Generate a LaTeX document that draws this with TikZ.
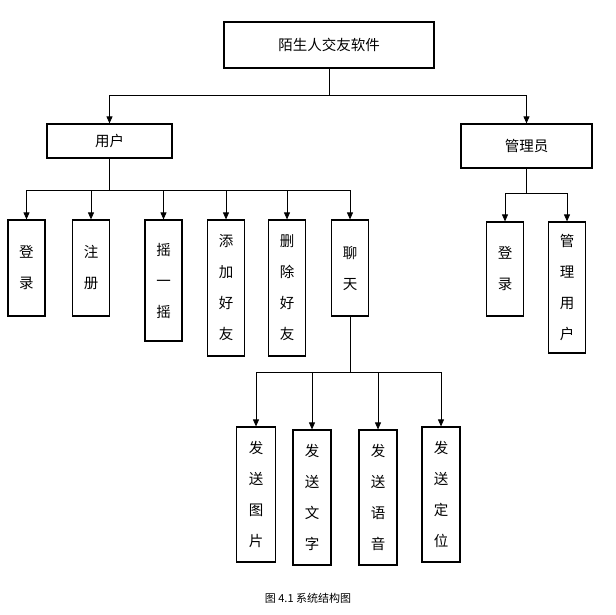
\documentclass[tikz,border=0pt]{standalone}
\usepackage{fontspec}
\newfontfamily\cjk{Noto Sans CJK SC}
\usetikzlibrary{arrows.meta}
\begin{document}
\begin{tikzpicture}[x=1pt,y=-1pt,
  box/.style={draw,line width=1.2pt,inner sep=0pt,font=\cjk\fontsize{14.5}{31}\selectfont,align=center},
  conn/.style={line width=0.8pt},
  arr/.style={conn,-{Triangle[length=7pt,width=6pt]}}]
\useasboundingbox (0,0) rectangle (616,615);
\node[box,minimum width=210pt,minimum height=46pt] (root) at (329,45) {陌生人交友软件};
\node[box,minimum width=125pt,minimum height=34pt] (user) at (109.5,141) {用户};
\node[box,minimum width=131pt,minimum height=44pt] (admin) at (526.5,146) {管理员};
\node[box,minimum width=37pt,minimum height=96pt] (u1) at (26.5,268) {登\\录};
\node[box,minimum width=37pt,minimum height=96pt] (u2) at (91,268) {注\\册};
\node[box,minimum width=37pt,minimum height=121pt] (u3) at (163.5,280.5) {摇\\一\\摇};
\node[box,minimum width=37pt,minimum height=136pt] (u4) at (226,288) {添\\加\\好\\友};
\node[box,minimum width=37pt,minimum height=136pt] (u5) at (287,288) {删\\除\\好\\友};
\node[box,minimum width=37pt,minimum height=96pt] (u6) at (350,268) {聊\\天};
\node[box,minimum width=37pt,minimum height=94pt] (a1) at (505,269) {登\\录};
\node[box,minimum width=37pt,minimum height=131pt] (a2) at (567,287.5) {管\\理\\用\\户};
\node[box,minimum width=39pt,minimum height=135pt] (c1) at (256,494.5) {发\\送\\图\\片};
\node[box,minimum width=38pt,minimum height=135pt] (c2) at (312,497.5) {发\\送\\文\\字};
\node[box,minimum width=38pt,minimum height=135pt] (c3) at (378,497.5) {发\\送\\语\\音};
\node[box,minimum width=38pt,minimum height=135pt] (c4) at (441,494.5) {发\\送\\定\\位};
\node[font=\cjk\fontsize{11}{13}\selectfont] (cap) at (308,598) {图 4.1 系统结构图};
% root
\coordinate (j0) at (329,95);
\draw[conn] (root.south) -- (j0);
\draw[arr] (j0) -| (user.north);
\draw[arr] (j0) -| (admin.north);
% user
\coordinate (j1) at (109.5,190);
\draw[conn] (user.south) -- (j1);
\foreach \n in {u1,u2,u3,u4,u5,u6} \draw[arr] (j1) -| (\n.north);
% admin
\coordinate (j2) at (526.5,193);
\draw[conn] (admin.south) -- (j2);
\foreach \n in {a1,a2} \draw[arr] (j2) -| (\n.north);
% chat
\coordinate (j3) at (350,372);
\draw[conn] (u6.south) -- (j3);
\foreach \n in {c1,c2,c3,c4} \draw[arr] (j3) -| (\n.north);
\end{tikzpicture}
\end{document}
